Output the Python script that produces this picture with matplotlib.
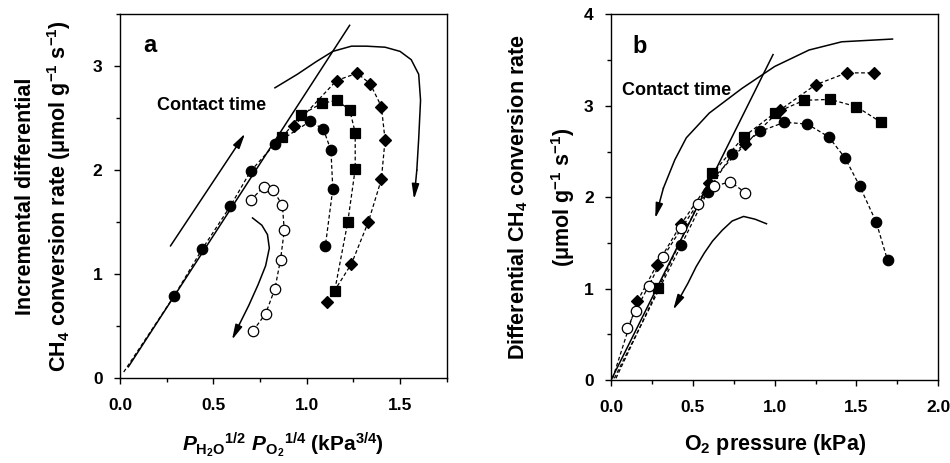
import matplotlib.pyplot as plt
from matplotlib.ticker import MultipleLocator

plt.rcParams['font.family'] = ['Liberation Sans', 'DejaVu Sans']
plt.rcParams['font.weight'] = 'bold'
plt.rcParams['mathtext.fontset'] = 'custom'
plt.rcParams['mathtext.rm'] = 'Liberation Sans:bold'
plt.rcParams['mathtext.bf'] = 'Liberation Sans:bold'
plt.rcParams['mathtext.it'] = 'Liberation Sans:bold:italic'

# ---- panel a data ----
a_circ_x = [0.29, 0.44, 0.59, 0.70, 0.83, 1.02, 1.09, 1.13, 1.14, 1.10]
a_circ_y = [0.79, 1.24, 1.65, 1.99, 2.25, 2.47, 2.39, 2.19, 1.82, 1.27]
a_sq_x = [0.87, 0.97, 1.08, 1.16, 1.23, 1.26, 1.26, 1.22, 1.15]
a_sq_y = [2.32, 2.53, 2.64, 2.67, 2.58, 2.36, 2.01, 1.50, 0.84]
a_dia_x = [0.93, 1.16, 1.27, 1.34, 1.40, 1.42, 1.40, 1.33, 1.24, 1.11]
a_dia_y = [2.42, 2.86, 2.93, 2.83, 2.61, 2.29, 1.91, 1.50, 1.10, 0.73]
a_open_x = [0.70, 0.77, 0.82, 0.87, 0.88, 0.86, 0.83, 0.78, 0.71]
a_open_y = [1.71, 1.84, 1.81, 1.66, 1.42, 1.14, 0.86, 0.62, 0.45]
a_fit_x = [0.045, 1.23]
a_fit_y = [0.11, 3.39]
a_arrow1 = [(0.27, 1.27), (0.67, 2.35)]
a_arrow2_x = [0.83, 0.95, 1.05, 1.14, 1.24, 1.32, 1.42, 1.50, 1.56, 1.60, 1.61, 1.60, 1.59, 1.575]
a_arrow2_y = [2.79, 2.92, 3.04, 3.14, 3.19, 3.19, 3.18, 3.14, 3.06, 2.92, 2.67, 2.30, 2.00, 1.72]
a_arrow3_x = [0.71, 0.76, 0.79, 0.80, 0.78, 0.74, 0.69, 0.64, 0.60]
a_arrow3_y = [1.54, 1.47, 1.38, 1.25, 1.08, 0.90, 0.70, 0.52, 0.37]

# ---- panel b data ----
b_circ_x = [0.43, 0.59, 0.74, 0.91, 1.06, 1.20, 1.33, 1.43, 1.52, 1.62, 1.69]
b_circ_y = [1.48, 2.06, 2.47, 2.72, 2.82, 2.80, 2.66, 2.43, 2.12, 1.73, 1.31]
b_sq_x = [0.29, 0.62, 0.81, 1.00, 1.18, 1.34, 1.50, 1.65]
b_sq_y = [1.01, 2.26, 2.66, 2.92, 3.06, 3.07, 2.99, 2.82]
b_dia_x = [0.16, 0.28, 0.43, 0.60, 0.82, 1.03, 1.25, 1.44, 1.61]
b_dia_y = [0.86, 1.26, 1.71, 2.16, 2.58, 2.95, 3.23, 3.36, 3.36]
b_open_x = [0.10, 0.15, 0.23, 0.32, 0.43, 0.53, 0.63, 0.73, 0.82]
b_open_y = [0.57, 0.76, 1.03, 1.35, 1.66, 1.93, 2.12, 2.17, 2.05]
b_fit_x = [0.0, 0.99]
b_fit_y = [0.0, 3.56]
b_arrow1_x = [1.72, 1.41, 1.21, 1.00, 0.80, 0.60, 0.46, 0.39, 0.32, 0.27]
b_arrow1_y = [3.73, 3.70, 3.61, 3.43, 3.19, 2.92, 2.65, 2.41, 2.10, 1.77]
b_arrow2_x = [0.95, 0.88, 0.81, 0.74, 0.68, 0.62, 0.57, 0.52, 0.47, 0.42, 0.38]
b_arrow2_y = [1.71, 1.76, 1.79, 1.74, 1.64, 1.52, 1.39, 1.24, 1.06, 0.90, 0.77]

fig = plt.figure(figsize=(9.5, 4.63), dpi=100)
ax1 = fig.add_axes([0.1263, 0.183, 0.3439, 0.787])
ax2 = fig.add_axes([0.6432, 0.179, 0.3445, 0.790])

dash = dict(color='black', linestyle=(0, (3, 2)), linewidth=0.9)
mk = dict(color='black', linestyle='none', markeredgewidth=0.9)


def curved_arrow(ax, xs, ys):
    ax.plot(xs[:-1], ys[:-1], color='black', linewidth=1.1)
    ax.annotate('', xy=(xs[-1], ys[-1]), xytext=(xs[-2], ys[-2]),
                arrowprops=dict(arrowstyle='-|>,head_length=0.9,head_width=0.22',
                                color='black', linewidth=1.1, shrinkA=0, shrinkB=0))


# panel a
ax1.plot(a_fit_x, a_fit_y, color='black', linewidth=1.1)
ax1.plot([0.02] + a_circ_x, [0.06] + a_circ_y, **dash)
ax1.plot(a_sq_x, a_sq_y, **dash)
ax1.plot(a_dia_x, a_dia_y, **dash)
ax1.plot(a_open_x, a_open_y, **dash)
ax1.plot(a_circ_x, a_circ_y, marker='o', markersize=7.5, **mk)
ax1.plot(a_sq_x, a_sq_y, marker='s', markersize=7, **mk)
ax1.plot(a_dia_x, a_dia_y, marker='D', markersize=6.5, **mk)
ax1.plot(a_open_x, a_open_y, marker='o', markersize=7.5, markerfacecolor='white', **mk)
ax1.annotate('', xy=a_arrow1[1], xytext=a_arrow1[0],
             arrowprops=dict(arrowstyle='-|>,head_length=0.9,head_width=0.22',
                             color='black', linewidth=1.1, shrinkA=0, shrinkB=0))
curved_arrow(ax1, a_arrow2_x, a_arrow2_y)
curved_arrow(ax1, a_arrow3_x, a_arrow3_y)
ax1.text(0.49, 2.62, 'Contact time', ha='center', va='center', fontsize=13, fontweight='bold')
ax1.text(0.16, 3.2, 'a', ha='center', va='center', fontsize=17, fontweight='bold')

ax1.set_xlim(0, 1.75)
ax1.set_ylim(0, 3.5)
ax1.set_xticks([0.0, 0.5, 1.0, 1.5])
ax1.set_xticklabels(['0.0', '0.5', '1.0', '1.5'])
ax1.xaxis.set_minor_locator(MultipleLocator(0.25))
ax1.set_yticks([0, 1, 2, 3])
ax1.yaxis.set_minor_locator(MultipleLocator(0.5))
ax1.set_xlabel(r'$\mathit{P}_{\mathrm{H_2O}}{}^{1/2}\ \mathit{P}_{\mathrm{O_2}}{}^{1/4}$ (kPa$^{3/4}$)',
               fontsize=15, fontweight='bold', labelpad=12)
ax1.set_ylabel('Incremental differential\nCH$_4$ conversion rate (μmol g$^{-1}$ s$^{-1}$)',
               fontsize=15.5, fontweight='bold', labelpad=14, linespacing=1.45)

# panel b
ax2.plot(b_fit_x, b_fit_y, color='black', linewidth=1.1)
ax2.plot([0.02] + b_circ_x, [0.02] + b_circ_y, **dash)
ax2.plot([0.03] + b_sq_x, [0.02] + b_sq_y, **dash)
ax2.plot([0.01] + b_dia_x, [0.02] + b_dia_y, **dash)
ax2.plot(b_open_x, b_open_y, **dash)
ax2.plot(b_circ_x, b_circ_y, marker='o', markersize=7.5, **mk)
ax2.plot(b_sq_x, b_sq_y, marker='s', markersize=7, **mk)
ax2.plot(b_dia_x, b_dia_y, marker='D', markersize=6.5, **mk)
ax2.plot(b_open_x, b_open_y, marker='o', markersize=7.5, markerfacecolor='white', **mk)
curved_arrow(ax2, b_arrow1_x, b_arrow1_y)
curved_arrow(ax2, b_arrow2_x, b_arrow2_y)
ax2.text(0.40, 3.17, 'Contact time', ha='center', va='center', fontsize=13, fontweight='bold')
ax2.text(0.177, 3.65, 'b', ha='center', va='center', fontsize=17, fontweight='bold')

ax2.set_xlim(0, 2.0)
ax2.set_ylim(0, 4)
ax2.set_xticks([0.0, 0.5, 1.0, 1.5, 2.0])
ax2.set_xticklabels(['0.0', '0.5', '1.0', '1.5', '2.0'])
ax2.xaxis.set_minor_locator(MultipleLocator(0.25))
ax2.set_yticks([0, 1, 2, 3, 4])
ax2.yaxis.set_minor_locator(MultipleLocator(0.5))
ax2.set_xlabel('O$_2$ pressure (kPa)', fontsize=15.5, fontweight='bold', labelpad=12)
ax2.set_ylabel('Differential CH$_4$ conversion rate\n(μmol g$^{-1}$ s$^{-1}$)',
               fontsize=15.5, fontweight='bold', labelpad=5, linespacing=1.9)

for ax in (ax1, ax2):
    ax.tick_params(which='both', direction='out', labelsize=12.5, width=1)
    ax.tick_params(which='major', length=4.5)
    ax.tick_params(which='minor', length=3)
    ax.tick_params(axis='x', which='both', pad=10)
    ax.tick_params(axis='y', which='both', pad=8)
    for lab in ax.get_xticklabels() + ax.get_yticklabels():
        lab.set_fontweight('bold')
    for sp in ax.spines.values():
        sp.set_linewidth(1)

fig.savefig('out.png', dpi=100)
